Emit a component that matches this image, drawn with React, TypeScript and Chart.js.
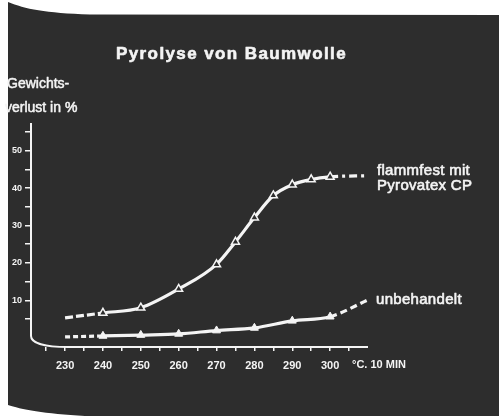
import React, { useEffect, useRef } from "react";
import { Chart, registerables } from "chart.js";

Chart.register(...registerables);

// ---- data ----
const flammTemps = [230, 240, 250, 260, 270, 275, 280, 285, 290, 295, 300, 310];
const flammValues = [5.3, 6.6, 8.0, 13.0, 19.6, 25.6, 32.1, 38.0, 40.9, 42.3, 43.0, 43.3];
const rawTemps = [230, 240, 250, 260, 270, 280, 290, 300, 310];
const rawValues = [0.2, 0.45, 0.7, 1.0, 1.9, 2.6, 4.5, 5.6, 10.1];
const xTickValues = [225, 230, 235, 240, 245, 250, 255, 260, 265, 270, 275, 280, 285, 290, 295, 300, 305];
const xTickLabels = ["230", "240", "250", "260", "270", "280", "290", "300"];
const yTickValues = [5, 10, 15, 20, 25, 30, 35, 40, 45, 50, 55];
const yTickLabels = ["10", "20", "30", "40", "50"];

const titleText = "Pyrolyse von Baumwolle";
const yTitleLines = ["Gewichts-", "verlust in %"];
const xUnitText = "°C. 10 MIN";
const flammLabel = ["flammfest mit", "Pyrovatex CP"];
const rawLabel = "unbehandelt";

const DARK = "#2d2d2d";
const WHITE = "#f4f4f4";
const SANS = "'Liberation Sans', Arial, Helvetica, sans-serif";

const backgroundPlugin = {
  id: "slideBackground",
  beforeDraw(chart: any) {
    const ctx = chart.ctx;
    const w = chart.width;
    const h = chart.height;
    ctx.save();
    ctx.fillStyle = "#ffffff";
    ctx.fillRect(0, 0, w, h);
    ctx.fillStyle = DARK;
    ctx.beginPath();
    ctx.moveTo(8, 2);
    ctx.bezierCurveTo(25, 9, 45, 13, 90, 14.5);
    ctx.lineTo(w, 15);
    ctx.lineTo(w, h);
    ctx.lineTo(85, h);
    ctx.bezierCurveTo(45, 414, 20, 409, 8, 405);
    ctx.closePath();
    ctx.fill();
    ctx.restore();
  },
};

function heavyText(ctx: any, text: string, x: number, y: number, stroke: number) {
  ctx.fillText(text, x, y);
  if (stroke > 0) {
    ctx.lineWidth = stroke;
    ctx.strokeStyle = WHITE;
    ctx.strokeText(text, x, y);
  }
}

const decorPlugin = {
  id: "slideDecor",
  afterDatasetsDraw(chart: any) {
    const ctx = chart.ctx;
    const xs = chart.scales.x;
    const ys = chart.scales.y;
    const left = xs.getPixelForValue(xs.min);
    const right = xs.getPixelForValue(xs.max);
    const top = ys.getPixelForValue(ys.max);
    const bottom = ys.getPixelForValue(ys.min);
    ctx.save();
    // axes with rounded corner
    ctx.strokeStyle = WHITE;
    ctx.lineWidth = 2;
    ctx.beginPath();
    ctx.moveTo(left, top);
    ctx.lineTo(left, bottom - 11);
    ctx.bezierCurveTo(left, bottom - 4, left + 14, bottom, left + 37, bottom);
    ctx.lineTo(right, bottom);
    ctx.stroke();

    ctx.fillStyle = WHITE;
    ctx.textAlign = "left";
    ctx.textBaseline = "alphabetic";
    ctx.lineJoin = "round";

    // title
    ctx.font = `bold 17px ${SANS}`;
    (ctx as any).letterSpacing = "1.4px";
    heavyText(ctx, titleText, 116, 58.5, 0.6);
    (ctx as any).letterSpacing = "0px";

    // y axis title
    ctx.font = `14px ${SANS}`;
    heavyText(ctx, yTitleLines[0], 7, 88, 0.5);
    heavyText(ctx, yTitleLines[1], 5, 112, 0.5);

    // x unit
    ctx.font = `bold 11px ${SANS}`;
    heavyText(ctx, xUnitText, 352, 368, 0);

    // series labels
    ctx.font = `15px ${SANS}`;
    (ctx as any).letterSpacing = "0.3px";
    heavyText(ctx, flammLabel[0], 377, 175, 0.6);
    heavyText(ctx, flammLabel[1], 377, 189.5, 0.6);
    heavyText(ctx, rawLabel, 376, 304, 0.6);
    (ctx as any).letterSpacing = "0px";
    ctx.restore();
  },
};

export default function App() {
  const ref = useRef<HTMLCanvasElement | null>(null);

  useEffect(() => {
    if (!ref.current) return;
    const radii = (n: number) => Array.from({ length: n }, (_, i) => (i === 0 || i === n - 1 ? 0 : 4.6));
    const chart = new Chart(ref.current, {
      type: "line",
      data: {
        datasets: [
          {
            label: flammLabel.join(" "),
            data: flammTemps.map((t, i) => ({ x: t, y: flammValues[i] })),
            borderColor: WHITE,
            borderWidth: 3.2,
            cubicInterpolationMode: "monotone",
            pointStyle: "triangle",
            pointRadius: radii(flammTemps.length),
            pointBackgroundColor: DARK,
            pointBorderColor: WHITE,
            pointBorderWidth: 1.5,
            segment: {
              borderDash: (c: any) =>
                c.p0DataIndex === 0 ? [8, 3] : c.p0DataIndex === flammTemps.length - 2 ? [8, 4, 3, 4] : undefined,
            },
          } as any,
          {
            label: rawLabel,
            data: rawTemps.map((t, i) => ({ x: t, y: rawValues[i] })),
            borderColor: WHITE,
            borderWidth: 3.2,
            cubicInterpolationMode: "monotone",
            pointStyle: "triangle",
            pointRadius: radii(rawTemps.length),
            pointBackgroundColor: WHITE,
            pointBorderColor: WHITE,
            pointBorderWidth: 1,
            segment: {
              borderDash: (c: any) =>
                c.p0DataIndex === 0 ? [5, 3] : c.p0DataIndex === rawTemps.length - 2 ? [7, 4] : undefined,
            },
          } as any,
        ],
      },
      options: {
        animation: false,
        responsive: false,
        devicePixelRatio: 1,
        layout: { padding: { left: 0, top: 123, right: 131, bottom: 0 } },
        plugins: {
          legend: { display: false },
          title: { display: false },
          tooltip: { enabled: false },
        },
        scales: {
          x: {
            type: "linear",
            min: 221,
            max: 310,
            afterBuildTicks: (s: any) => {
              s.ticks = xTickValues.map((v) => ({ value: v }));
            },
            afterFit: (s: any) => {
              s.height = 69;
            },
            border: { display: false },
            grid: {
              drawOnChartArea: false,
              drawTicks: true,
              tickLength: 4,
              color: WHITE,
              lineWidth: 1.5,
            },
            ticks: {
              autoSkip: false,
              maxRotation: 0,
              color: WHITE,
              padding: 8,
              font: { family: SANS, size: 11, weight: "bold" },
              callback: (v: any) => (xTickLabels.includes(String(v)) ? String(v) : ""),
            },
          },
          y: {
            type: "linear",
            min: -2.5,
            max: 57.4,
            afterBuildTicks: (s: any) => {
              s.ticks = yTickValues.map((v) => ({ value: v }));
            },
            afterFit: (s: any) => {
              s.width = 31;
            },
            border: { display: false },
            grid: {
              drawOnChartArea: false,
              drawTicks: true,
              tickLength: 6,
              color: WHITE,
              lineWidth: 1.5,
            },
            ticks: {
              autoSkip: false,
              color: WHITE,
              padding: 3,
              font: { family: SANS, size: 9, weight: "bold" },
              callback: (v: any) => (yTickLabels.includes(String(v)) ? String(v) : ""),
            },
          },
        },
      },
      plugins: [backgroundPlugin, decorPlugin],
    });
    return () => chart.destroy();
  }, []);

  return (
    <div style={{ position: "fixed", left: 0, top: 0, width: 499, height: 416, background: "#fff" }}>
      <canvas ref={ref} width={499} height={416} style={{ display: "block", width: 499, height: 416 }} />
    </div>
  );
}
